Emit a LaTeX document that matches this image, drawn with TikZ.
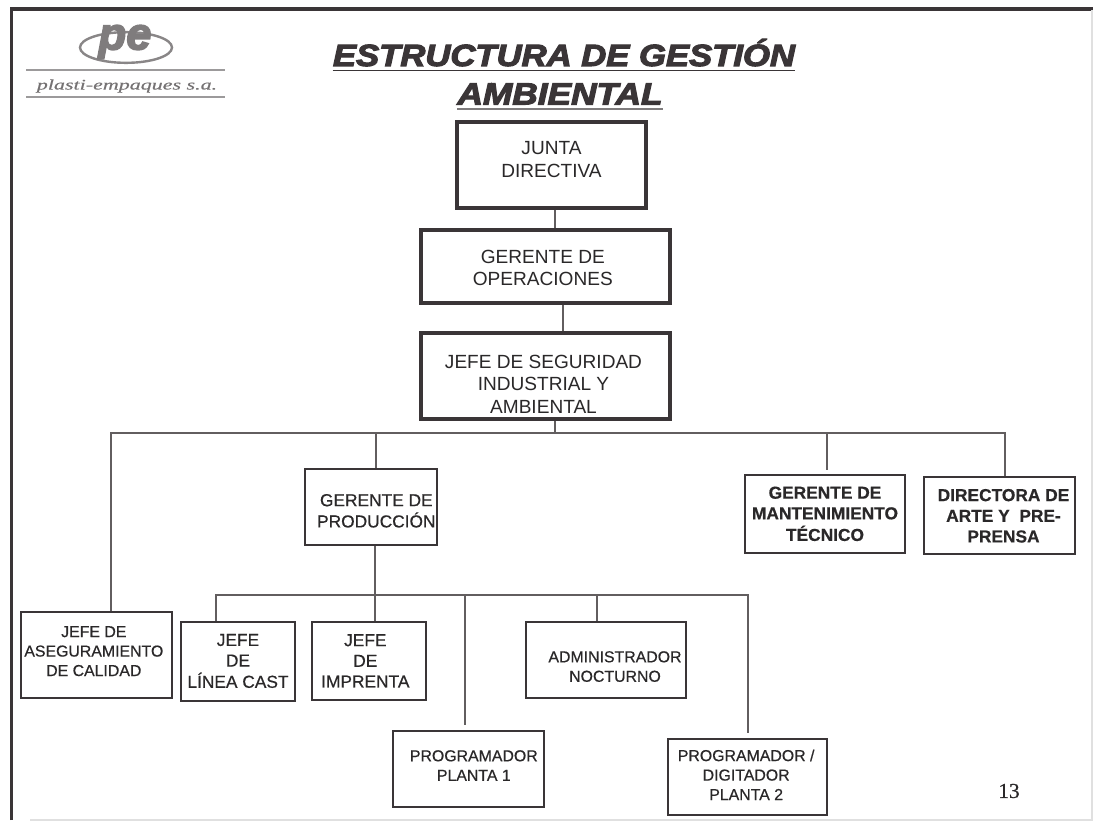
\documentclass[tikz,border=0pt]{standalone}
\usetikzlibrary{shapes.geometric}
\usepackage{fontspec}
\setmainfont{Liberation Sans}
\newfontfamily\semi[FakeBold=0.5]{Liberation Sans}
\newfontfamily\heavy[FakeBold=3.4]{Liberation Sans Bold Italic}
\newfontfamily\numfont[FakeBold=0.5]{Liberation Serif}
\newfontfamily\logofont[FakeBold=0.3]{Liberation Serif Italic}
\definecolor{ink}{HTML}{3A3537}
\definecolor{txt}{HTML}{2A2829}
\definecolor{wire}{HTML}{625E5F}
\newcommand{\boxtext}[3]{\raisebox{#2pt}[0pt][0pt]{\hspace*{#1pt}\begin{tabular}{@{}c@{}}#3\end{tabular}}}
% name, x1, y1, x2, y2, style, dx, dy, text
\newcommand{\orgbox}[9]{\node[#6,minimum width={(#4-#2)*0.75pt},minimum height={(#5-#3)*0.75pt}] (#1) at ({(#2+#4)/2},{(#3+#5)/2}) {\boxtext{#7}{#8}{#9}};}
\tikzset{
  thickbox/.style={draw=ink,line width=2.4pt,fill=white,inner sep=0pt,text=txt,font=\fontsize{14.3pt}{17pt}\selectfont},
  midbox/.style={draw=ink,line width=1.6pt,fill=white,inner sep=0pt,text=txt,font=\semi\fontsize{13pt}{15.5pt}\selectfont},
  lowbox/.style={draw=ink,line width=1.6pt,fill=white,inner sep=0pt,text=txt,font=\semi\fontsize{11.9pt}{14.6pt}\selectfont},
  wirel/.style={draw=wire,line width=0.85pt},
  titlet/.style={text=ink,inner sep=0pt,font=\heavy\fontsize{23pt}{26pt}\selectfont},
  rulet/.style={draw=ink,line width=1.3pt},
  framel/.style={draw=ink,line width=2.8pt}
}
\begin{document}
\begin{tikzpicture}[x=0.75pt,y=-0.75pt]
\useasboundingbox (0,0) rectangle (1093,824);
\fill[white] (0,0) rectangle (1093,824);
% frame
\draw[framel] (11.5,820) -- (11.5,9) -- (1093,9);
\draw[draw=black!12,line width=0.8pt] (30,820) -- (1092,820) -- (1092,10);
% logo
\node[draw=ink!60,line width=1.8pt,ellipse,minimum width=69pt,minimum height=23pt,inner sep=0pt] (logoring) at (126,47.5) {};
\node[inner sep=0pt,text=ink!65,font=\heavy\fontsize{34pt}{34pt}\selectfont] (logope) at (125,42) {pe};
\draw[draw=ink!50,line width=1.2pt] (26,70) -- (225,70);
\draw[draw=ink!50,line width=1.2pt] (26,97) -- (225,97);
\node[inner sep=0pt,text=ink!70,font=\logofont\fontsize{11pt}{12pt}\selectfont] (logotext) at (127,86) {\scalebox{1.5}[1]{plasti-empaques s.a.}};
% title
\node[titlet,anchor=base] (title1) at (564,66) {\scalebox{1.13}[1]{ESTRUCTURA DE GESTIÓN}};
\node[titlet,anchor=base] (title2) at (560,104.5) {\scalebox{1.15}[1]{AMBIENTAL}};
\draw[rulet] (title1.base west) ++(0,4.5) coordinate (u1a) -- (title1.base east |- u1a);
\draw[rulet,draw=ink!65] (title2.base west) ++(0,4.5) coordinate (u2a) -- (title2.base east |- u2a);
% coordinates for connectors
\coordinate (busL) at (111,433);
\coordinate (busR) at (1005,433);
\coordinate (bus2L) at (216,595);
\coordinate (bus2R) at (748,595);
% upper boxes
\orgbox{junta}{457}{122}{646}{208}{thickbox}{0}{-0.9}{JUNTA\\DIRECTIVA}
\orgbox{ops}{421}{230}{670}{303}{thickbox}{-4}{-6.1}{GERENTE DE\\OPERACIONES}
\orgbox{seg}{421}{333}{670}{419}{thickbox}{-3}{-11.4}{JEFE DE SEGURIDAD\\INDUSTRIAL Y\\AMBIENTAL}
% second row
\orgbox{prod}{305}{469}{437}{545}{midbox}{8}{-7.25}{GERENTE DE\\PRODUCCIÓN}
\orgbox{mant}{745}{475}{905}{553}{midbox}{0}{-4.25}{\bfseries GERENTE DE\\\bfseries MANTENIMIENTO\\\bfseries TÉCNICO}
\orgbox{arte}{924}{477}{1075}{554}{midbox}{6}{-4.6}{\bfseries DIRECTORA DE\\\bfseries ARTE Y~~PRE-\\\bfseries PRENSA}
% third row
\orgbox{calidad}{21}{612}{172}{698}{lowbox}{-4}{-1.25}{JEFE DE\\ASEGURAMIENTO\\DE CALIDAD}
\orgbox{linea}{181}{622}{295}{701}{midbox}{0}{-3.9}{JEFE\\DE\\LÍNEA CAST}
\orgbox{imprenta}{312}{622}{426}{700}{midbox}{-5.5}{-4.25}{JEFE\\DE\\IMPRENTA}
\orgbox{admin}{526}{622}{686}{698}{lowbox}{13.5}{-9.1}{ADMINISTRADOR\\NOCTURNO}
\orgbox{prog1}{393}{731}{544}{807}{lowbox}{8}{-1.6}{PROGRAMADOR\\PLANTA 1}
\orgbox{prog2}{668}{739}{827}{815}{lowbox}{-2}{-2.75}{PROGRAMADOR /\\DIGITADOR\\PLANTA 2}
% free ends of connectors that stop short of their box
\coordinate (mantend) at (827,470);
\coordinate (prog1end) at (465,725);
\coordinate (prog2end) at (748,733);
% connectors
\draw[wirel] (junta.south -| 555,0) -- (ops.north -| 555,0);
\draw[wirel] (ops.south -| 563,0) -- (seg.north -| 563,0);
\draw[wirel] (seg.south -| 555,0) -- (busL -| 555,0);
\draw[wirel] (calidad.north -| busL) -- (busL) -- (busR) -- (arte.north -| busR);
\draw[wirel] (busL -| 376,0) -- (prod.north -| 376,0);
\draw[wirel] (busL -| mantend) -- (mantend);
\draw[wirel] (prod.south -| 375,0) -- (imprenta.north -| 375,0);
\draw[wirel] (linea.north -| bus2L) -- (bus2L) -- (bus2R) -- (prog2end);
\draw[wirel] (bus2L -| prog1end) -- (prog1end);
\draw[wirel] (bus2L -| 597,0) -- (admin.north -| 597,0);
% page number
\node[inner sep=0pt,text=txt,font=\numfont\fontsize{16pt}{16pt}\selectfont] (pagenum) at (1009,791) {13};
\end{tikzpicture}
\end{document}
